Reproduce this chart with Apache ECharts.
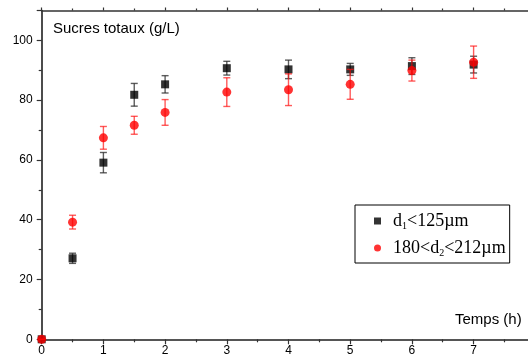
<!DOCTYPE html>
<html>
<head>
<meta charset="utf-8">
<script src="https://cdn.jsdelivr.net/npm/echarts@6/dist/echarts.min.js"></script>
<style>
  html, body { margin: 0; padding: 0; background: #fff; }
  #chart { width: 528px; height: 356px; }
</style>
</head>
<body>
<div id="chart"></div>
<script>
// Sampling times (h)
const hours = [0, 0.5, 1, 1.5, 2, 3, 4, 5, 6, 7];

// Total sugars (g/L), fine particles d1 < 125 µm
const sugarFine = [0, 27.1, 59.1, 81.8, 85.3, 90.7, 90.3, 90.3, 91.4, 91.9];
const errFine   = [0, 1.7, 3.4, 3.8, 2.9, 2.3, 3.1, 2.0, 2.8, 2.8];

// Total sugars (g/L), coarse particles 180 < d2 < 212 µm
const sugarCoarse = [0, 39.2, 67.4, 71.6, 75.9, 82.7, 83.5, 85.3, 89.9, 92.7];
const errCoarse   = [0, 2.3, 3.8, 3.0, 4.3, 4.8, 5.3, 5.0, 3.5, 5.4];

// Tick labels shown on each axis (the time axis runs on to 8 h, past the frame)
const xTickLabels = [0, 1, 2, 3, 4, 5, 6, 7];
const yTickLabels = [0, 20, 40, 60, 80, 100];
const xMax = 8;
const yMax = 110;

const nameFine = 'd1<125µm';
const nameCoarse = '180<d2<212µm';

const pts = (ys) => hours.map((h, i) => [h, ys[i]]);
const bars = (ys, es) => hours.map((h, i) => [h, ys[i] - es[i], ys[i] + es[i]]);

function errorBars(color) {
  return function (params, api) {
    const x = api.value(0);
    const lo = api.coord([x, api.value(1)]);
    const hi = api.coord([x, api.value(2)]);
    const w = 3.5;
    const style = { stroke: color, lineWidth: 1.4, fill: null };
    return {
      type: 'group',
      children: [
        { type: 'line', shape: { x1: lo[0], y1: lo[1], x2: hi[0], y2: hi[1] }, style },
        { type: 'line', shape: { x1: lo[0] - w, y1: lo[1], x2: lo[0] + w, y2: lo[1] }, style },
        { type: 'line', shape: { x1: hi[0] - w, y1: hi[1], x2: hi[0] + w, y2: hi[1] }, style }
      ]
    };
  };
}

const axisColor = '#333';
const sans = 'Liberation Sans, Arial, sans-serif';
const serif = 'Liberation Serif, Times New Roman, serif';

const chart = echarts.init(document.getElementById('chart'), null, { renderer: 'canvas' });

chart.setOption({
  animation: false,
  backgroundColor: '#fff',
  grid: { left: 41.7, top: 10.5, right: -7.3, bottom: 16.7, outerBoundsMode: 'none', containLabel: false },
  title: [
    { text: 'Sucres totaux (g/L)', left: 48, top: 16,
      textStyle: { fontFamily: sans, fontSize: 15, fontWeight: 'normal', color: '#000' } },
    { text: 'Temps (h)', left: 450, top: 307,
      textStyle: { fontFamily: sans, fontSize: 15, fontWeight: 'normal', color: '#000' } }
  ],
  legend: {
    orient: 'vertical',
    left: 355,
    top: 205,
    padding: [6, 4, 5, 19],
    itemGap: 7,
    itemWidth: 7,
    itemHeight: 7,
    borderColor: '#000',
    borderWidth: 1,
    borderRadius: 0,
    data: [
      { name: nameFine, icon: 'rect' },
      { name: nameCoarse, icon: 'circle' }
    ],
    formatter: function (name) {
      if (name === nameFine) return '{t|d}{s|1}{t|<125µm}';
      return '{t|180<d}{s|2}{t|<212µm}';
    },
    textStyle: {
      padding: [0, 0, 0, 7],
      rich: {
        t: { fontFamily: serif, fontSize: 18, color: '#000', lineHeight: 22 },
        s: { fontFamily: serif, fontSize: 10, color: '#000', lineHeight: 22, padding: [10, 0, 0, 0] }
      }
    }
  },
  xAxis: [
    {
      type: 'value', min: 0, max: xMax, interval: 1,
      splitLine: { show: false },
      axisLine: { lineStyle: { color: '#555', width: 1.8 } },
      axisTick: { length: 5, lineStyle: { color: axisColor, width: 1.2 } },
      minorTick: { show: true, splitNumber: 2, length: 3, lineStyle: { color: axisColor, width: 1.2 } },
      axisLabel: {
        margin: 5, fontFamily: sans, fontSize: 12, color: '#000',
        formatter: (v) => (xTickLabels.indexOf(v) >= 0 ? String(v) : '')
      }
    },
    {
      type: 'value', position: 'top', min: 0, max: xMax, interval: 1,
      splitLine: { show: false },
      axisLine: { lineStyle: { color: axisColor, width: 1.5 } },
      axisTick: { length: 3, lineStyle: { color: axisColor, width: 1.2 } },
      minorTick: { show: true, splitNumber: 2, length: 2, lineStyle: { color: axisColor, width: 1.2 } },
      axisLabel: { show: false }
    }
  ],
  yAxis: {
    type: 'value', min: 0, max: yMax, interval: 20,
    splitLine: { show: false },
    axisLine: { show: true, lineStyle: { color: '#111', width: 1.5 } },
    axisTick: { show: true, length: 5, lineStyle: { color: axisColor, width: 1.2 } },
    minorTick: { show: true, splitNumber: 2, length: 3, lineStyle: { color: axisColor, width: 1.2 } },
    axisLabel: {
      margin: 9, fontFamily: sans, fontSize: 12, color: '#000',
      formatter: (v) => (yTickLabels.indexOf(v) >= 0 ? String(v) : '')
    }
  },
  series: [
    {
      type: 'custom', name: 'errFine', renderItem: errorBars('rgba(40,40,40,0.75)'),
      data: bars(sugarFine, errFine), z: 2, silent: true
    },
    {
      type: 'scatter', name: nameFine, symbol: 'rect', symbolSize: 8,
      itemStyle: { color: '#000' }, data: pts(sugarFine), z: 3, clip: false
    },
    {
      type: 'custom', name: 'errCoarse', renderItem: errorBars('rgba(255,20,20,0.7)'),
      data: bars(sugarCoarse, errCoarse), z: 4, silent: true
    },
    {
      type: 'scatter', name: nameCoarse, symbol: 'circle', symbolSize: 9,
      itemStyle: { color: '#ff0000' }, data: pts(sugarCoarse), z: 5, clip: false
    }
  ]
});
</script>
</body>
</html>
